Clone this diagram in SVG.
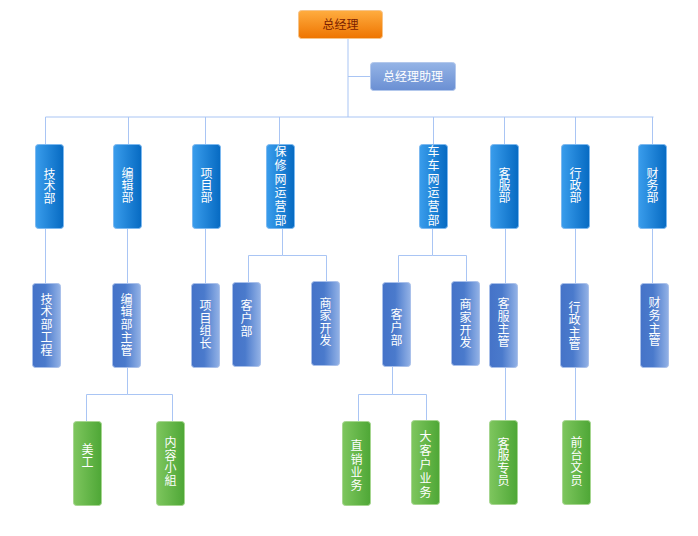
<svg xmlns="http://www.w3.org/2000/svg" width="698" height="536" viewBox="0 0 698 536">
<defs>
<linearGradient id="gOrange" x1="0" y1="0" x2="0" y2="1"><stop offset="0" stop-color="#FFAD40"/><stop offset="1" stop-color="#EE7400"/></linearGradient>
<linearGradient id="gAsst" x1="0" y1="0" x2="0" y2="1"><stop offset="0" stop-color="#95B4E6"/><stop offset="1" stop-color="#6A8FD3"/></linearGradient>
<linearGradient id="gL1" x1="0" y1="0" x2="1" y2="0"><stop offset="0" stop-color="#3A9DEC"/><stop offset="1" stop-color="#066AC2"/></linearGradient>
<linearGradient id="gL2" x1="0" y1="0" x2="1" y2="0"><stop offset="0" stop-color="#4573C8"/><stop offset="0.45" stop-color="#4A7ACC"/><stop offset="1" stop-color="#93B2E6"/></linearGradient>
<linearGradient id="gL3" x1="0" y1="0" x2="1" y2="0"><stop offset="0" stop-color="#7EC65E"/><stop offset="1" stop-color="#4EA736"/></linearGradient>
</defs>
<style>
.c{fill:none;stroke:#A9C5F4;stroke-width:1}
.t{font-family:"Noto Sans CJK SC","Liberation Sans",sans-serif;font-size:12px;fill:#fff;text-anchor:middle}
.v{writing-mode:vertical-rl;text-orientation:upright}
.top{fill:url(#gOrange);stroke:#F6C48A;stroke-width:1}
.asst{fill:url(#gAsst);stroke:#B3C8EC;stroke-width:1}
.l1{fill:url(#gL1);stroke:#7DB9F0;stroke-width:1}
.l2{fill:url(#gL2);stroke:#A9C0EA;stroke-width:1}
.l3{fill:url(#gL3);stroke:#A6D690;stroke-width:1}
</style>
<rect width="698" height="536" fill="#fff"/>
<g id="connectors">
<path class="c" d="M348,38V117M348,76.5H370M45.5,117H653.5"/>
<path class="c" d="M45.5,117V144M128.5,117V144M205.5,117V144M279.5,117V144M433.5,117V144M504.5,117V144M575.5,117V144M652.5,117V144"/>
<path class="c" d="M45.5,228V283M127.5,228V283M205.5,228V283M505.5,228V283M575.5,228V283M652.5,228V283"/>
<path class="c" d="M282.5,228V255.5H248.5V282M282.5,255.5H326.5V281"/>
<path class="c" d="M432.5,228V255.5H398.5V282M432.5,255.5H466.5V281"/>
<path class="c" d="M127.5,367V394.5H86.5V421M127.5,394.5H172.5V421"/>
<path class="c" d="M392.5,366V394.5H358.5V421M392.5,394.5H426.5V420"/>
<path class="c" d="M505.5,367V420M575.5,367V420"/>
</g>
<g id="n-ceo"><rect class="top" x="298.5" y="10.5" width="84" height="28" rx="3"/><text class="t" x="340.5" y="29" style="fill:#7A1E00">总经理</text></g>
<g id="n-asst"><rect class="asst" x="370.5" y="62.5" width="85" height="28" rx="3"/><text class="t" x="413" y="81">总经理助理</text></g>

<g id="n-jishu"><rect class="l1" x="35.5" y="144.5" width="28" height="84" rx="3"/><text class="t v" x="49.5" y="186.5">技术部</text></g>
<g id="n-bianji"><rect class="l1" x="113.5" y="144.5" width="28" height="84" rx="3"/><text class="t v" x="127.5" y="185">编辑部</text></g>
<g id="n-xiangmu"><rect class="l1" x="192.5" y="144.5" width="28" height="84" rx="3"/><text class="t v" x="206.5" y="185">项目部</text></g>
<g id="n-baoxiu"><rect class="l1" x="266.5" y="144.5" width="28" height="84" rx="3"/><text class="t v" x="280.5" y="186.8" letter-spacing="1.7">保修网运营部</text></g>
<g id="n-cheche"><rect class="l1" x="419.5" y="144.5" width="28" height="84" rx="3"/><text class="t v" x="433.5" y="186.8" letter-spacing="1.7">车车网运营部</text></g>
<g id="n-kefu"><rect class="l1" x="490.5" y="144.5" width="28" height="84" rx="3"/><text class="t v" x="504.5" y="185.7">客服部</text></g>
<g id="n-xingzheng"><rect class="l1" x="561.5" y="144.5" width="28" height="84" rx="3"/><text class="t v" x="575.5" y="185.7">行政部</text></g>
<g id="n-caiwu"><rect class="l1" x="638.5" y="144.5" width="28" height="84" rx="3"/><text class="t v" x="652.5" y="185.7">财务部</text></g>

<g id="n-jishugc"><rect class="l2" x="32.5" y="283.5" width="28" height="84" rx="3"/><text class="t v" x="46.5" y="325" letter-spacing="0.8">技术部工程</text></g>
<g id="n-bianjizg"><rect class="l2" x="112.5" y="283.5" width="28" height="84" rx="3"/><text class="t v" x="126.5" y="325" letter-spacing="0.8">编辑部主管</text></g>
<g id="n-xiangmuzz"><rect class="l2" x="191.5" y="283.5" width="28" height="84" rx="3"/><text class="t v" x="205.5" y="324.8" letter-spacing="0.6">项目组长</text></g>
<g id="n-bx-kehu"><rect class="l2" x="232.5" y="282.5" width="28" height="84" rx="3"/><text class="t v" x="246.5" y="319" letter-spacing="1">客户部</text></g>
<g id="n-bx-shangjia"><rect class="l2" x="311.5" y="281.5" width="28" height="84" rx="3"/><text class="t v" x="325.5" y="322.3" letter-spacing="0.6">商家开发</text></g>
<g id="n-cc-kehu"><rect class="l2" x="382.5" y="282.5" width="28" height="84" rx="3"/><text class="t v" x="396.5" y="327.5" letter-spacing="1">客户部</text></g>
<g id="n-cc-shangjia"><rect class="l2" x="451.5" y="281.5" width="28" height="84" rx="3"/><text class="t v" x="465.5" y="324" letter-spacing="0.6">商家开发</text></g>
<g id="n-kefuzg"><rect class="l2" x="489.5" y="283.5" width="28" height="84" rx="3"/><text class="t v" x="503.5" y="322.8" letter-spacing="0.6">客服主管</text></g>
<g id="n-xingzhengzg"><rect class="l2" x="560.5" y="283.5" width="28" height="84" rx="3"/><text class="t v" x="574.5" y="326.3" letter-spacing="0.6">行政主管</text></g>
<g id="n-caiwuzg"><rect class="l2" x="640.5" y="283.5" width="28" height="84" rx="3"/><text class="t v" x="654.5" y="322" letter-spacing="0.6">财务主管</text></g>

<g id="n-meigong"><rect class="l3" x="73.5" y="421.5" width="28" height="84" rx="3"/><text class="t v" x="87.5" y="456" letter-spacing="1">美工</text></g>
<g id="n-neirong"><rect class="l3" x="156.5" y="421.5" width="28" height="84" rx="3"/><text class="t v" x="170.5" y="461.8" letter-spacing="0.6">内容小組</text></g>
<g id="n-zhixiao"><rect class="l3" x="342.5" y="421.5" width="28" height="84" rx="3"/><text class="t v" x="356.5" y="466.3" letter-spacing="1.3">直销业务</text></g>
<g id="n-dakehu"><rect class="l3" x="411.5" y="420.5" width="28" height="84" rx="3"/><text class="t v" x="425.5" y="465.8" letter-spacing="2">大客户业务</text></g>
<g id="n-kefuzy"><rect class="l3" x="489.5" y="420.5" width="28" height="84" rx="3"/><text class="t v" x="503.5" y="462.3" letter-spacing="0.6">客服专员</text></g>
<g id="n-qiantai"><rect class="l3" x="562.5" y="420.5" width="28" height="84" rx="3"/><text class="t v" x="576.5" y="461.6" letter-spacing="0.6">前台文员</text></g>
</svg>
